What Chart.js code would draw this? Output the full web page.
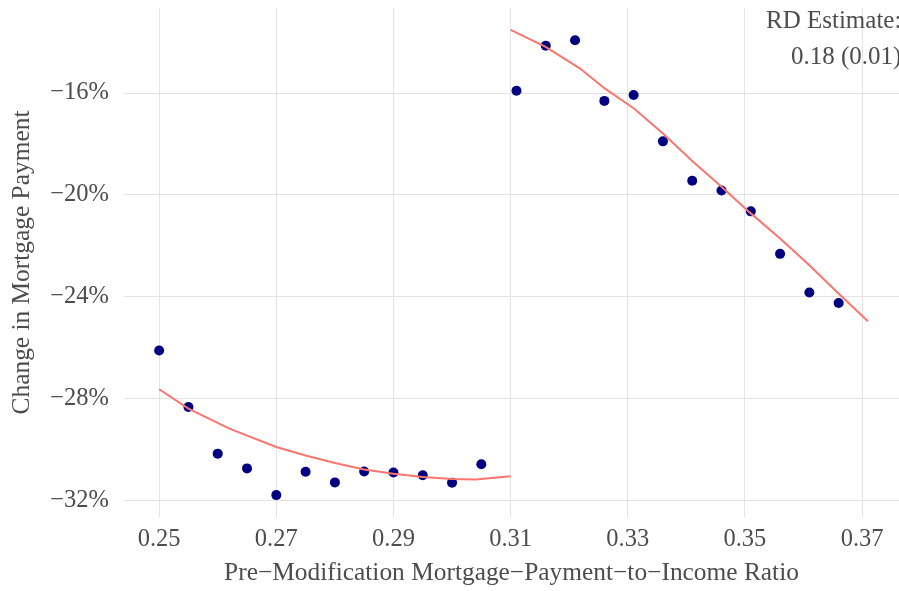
<!DOCTYPE html>
<html>
<head>
<meta charset="utf-8">
<script src="https://cdn.jsdelivr.net/npm/chart.js@4/dist/chart.umd.min.js"></script>
<style>
  html, body { margin: 0; padding: 0; background: #fff; }
  canvas { display: block; }
</style>
</head>
<body>
<canvas id="mycanvas" width="899" height="591"></canvas>
<script>
// binned means, left and right of the 0.31 cutoff (percent change)
var leftX = [0.250, 0.255, 0.260, 0.265, 0.270, 0.275, 0.280, 0.285, 0.290, 0.295, 0.300, 0.305];
var leftY = [-26.12, -28.34, -30.17, -30.75, -31.80, -30.88, -31.30, -30.87, -30.91, -31.02, -31.31, -30.59];
var rightX = [0.311, 0.316, 0.321, 0.326, 0.331, 0.336, 0.341, 0.346, 0.351, 0.356, 0.361, 0.366];
var rightY = [-15.91, -14.14, -13.93, -16.31, -16.08, -17.90, -19.45, -19.83, -20.65, -22.32, -23.84, -24.25];

// fitted polynomial lines
var fitLeftX = [0.250, 0.255, 0.262, 0.270, 0.275, 0.280, 0.285, 0.290, 0.295, 0.300, 0.304, 0.310];
var fitLeftY = [-27.64, -28.40, -29.19, -29.91, -30.24, -30.54, -30.79, -30.96, -31.09, -31.17, -31.19, -31.06];
var fitRightX = [0.310, 0.3159, 0.3218, 0.326, 0.331, 0.336, 0.341, 0.346, 0.351, 0.356, 0.361, 0.3654, 0.371];
var fitRightY = [-13.52, -14.18, -15.03, -15.81, -16.60, -17.59, -18.67, -19.68, -20.73, -21.72, -22.77, -23.75, -24.97];

var xTicks = [0.25, 0.27, 0.29, 0.31, 0.33, 0.35, 0.37];
var yTicks = [-32, -28, -24, -20, -16];
var rdText = ["RD Estimate:", "0.18 (0.01)"];

function pairs(xs, ys) {
  var out = [];
  for (var i in xs) {
    out.push({x: xs[i], y: ys[i]});
  }
  return out;
}

var grey = "#4d4d4d";
var gridCol = "#e3e3e3";
var serif = "'Liberation Serif', 'Times New Roman', serif";

// no extra room for the end tick labels, the plot area is fixed by hand
function noPad(scale) {
  scale.paddingTop = 0;
  scale.paddingBottom = 0;
  scale.paddingLeft = 0;
  scale.paddingRight = 0;
}

var rdLabel = {
  id: "rdLabel",
  afterDraw: function(chart) {
    var c = chart.ctx;
    c.save();
    c.fillStyle = grey;
    c.font = "25px " + serif;
    c.textBaseline = "alphabetic";
    c.textAlign = "left";
    c.fillText(rdText[0], 766, 28);
    c.fillText(rdText[1], 791, 64);
    c.restore();
  }
};

var ctx = document.getElementById("mycanvas");

var chart = new Chart(ctx, {
  type: "scatter",
  data: {
    datasets: [
      {
        data: pairs(leftX, leftY),
        backgroundColor: "#000080",
        borderColor: "#000080",
        pointRadius: 5,
        borderWidth: 0,
        order: 2
      },
      {
        data: pairs(rightX, rightY),
        backgroundColor: "#000080",
        borderColor: "#000080",
        pointRadius: 5,
        borderWidth: 0,
        order: 2
      },
      {
        data: pairs(fitLeftX, fitLeftY),
        showLine: true,
        borderColor: "#F8766D",
        borderWidth: 2,
        pointRadius: 0,
        tension: 0,
        order: 1
      },
      {
        data: pairs(fitRightX, fitRightY),
        showLine: true,
        borderColor: "#F8766D",
        borderWidth: 2,
        pointRadius: 0,
        tension: 0,
        order: 1
      }
    ]
  },
  options: {
    responsive: false,
    animation: false,
    layout: {
      autoPadding: false,
      padding: { top: 8, right: 0, left: 0, bottom: 0 }
    },
    plugins: {
      legend: { display: false },
      tooltip: { enabled: false }
    },
    scales: {
      x: {
        type: "linear",
        min: 0.244,
        max: 0.3763,
        afterBuildTicks: function(scale) {
          scale.ticks = xTicks.map(function(v) { return {value: v}; });
        },
        afterFit: function(scale) {
          scale.height = 74;
          noPad(scale);
        },
        grid: { color: gridCol, lineWidth: 1, drawTicks: false },
        border: { display: false },
        ticks: {
          color: grey,
          padding: 8,
          font: { family: serif, size: 24.5 },
          callback: function(v) { return v.toFixed(2); }
        },
        title: {
          display: true,
          text: "Pre\u2212Modification Mortgage\u2212Payment\u2212to\u2212Income Ratio",
          color: grey,
          font: { family: serif, size: 25.4 },
          padding: { top: 0, bottom: 2 }
        }
      },
      y: {
        type: "linear",
        min: -32.66,
        max: -12.66,
        afterBuildTicks: function(scale) {
          scale.ticks = yTicks.map(function(v) { return {value: v}; });
        },
        afterFit: function(scale) {
          scale.width = 124;
          noPad(scale);
        },
        grid: { color: gridCol, lineWidth: 1, drawTicks: false },
        border: { display: false },
        ticks: {
          color: grey,
          padding: 15,
          font: { family: serif, size: 24.5 },
          callback: function(v) { return "\u2212" + Math.abs(v) + "%"; }
        },
        title: {
          display: true,
          text: "Change in Mortgage Payment",
          color: grey,
          font: { family: serif, size: 25.4 },
          padding: { top: 7, bottom: 0 }
        }
      }
    }
  },
  plugins: [rdLabel]
});
</script>
</body>
</html>
